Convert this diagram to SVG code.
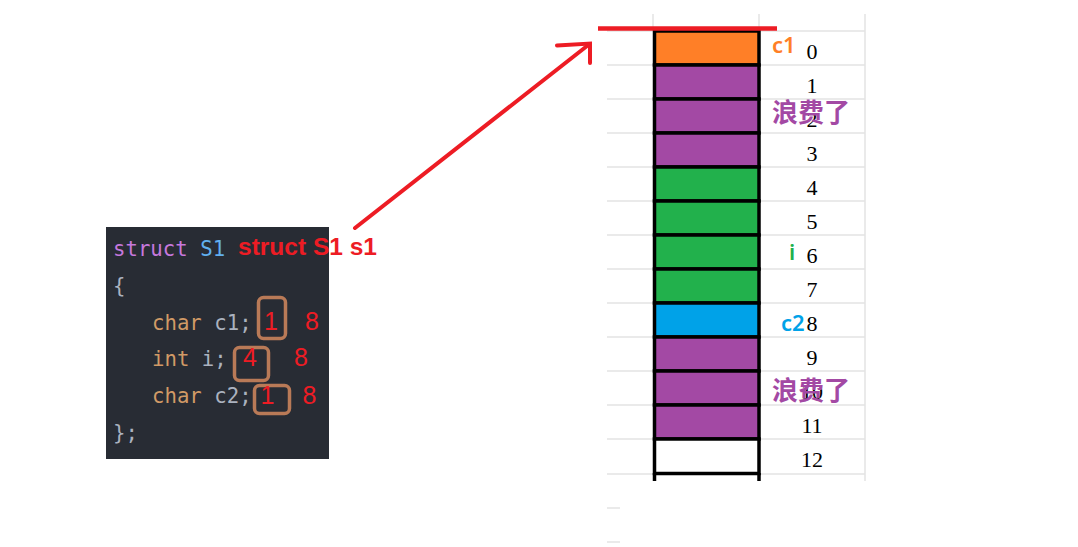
<svg xmlns="http://www.w3.org/2000/svg" width="1078" height="547" viewBox="0 0 1078 547">
<style>
.grid{stroke:#e3e3e3;stroke-width:1.5;fill:none}
.cell{stroke:#000;stroke-width:3.5}
.num{font-family:"Liberation Serif","Times New Roman",serif;font-size:22px;fill:#000;text-anchor:middle}
.code{font-family:"DejaVu Sans Mono","Liberation Mono",monospace;font-size:20.7px}
.kw{fill:#c678dd}.ty{fill:#61afef}.tp{fill:#d19a66}.id{fill:#abb2bf}
.red{font-family:"Liberation Sans",Arial,sans-serif;font-size:25px;fill:#ed1c24;text-anchor:middle}
.box{fill:none;stroke:#b97a57;stroke-width:3.5}
.waste{font-family:"Noto Sans CJK SC","Noto Sans",sans-serif;font-size:26px;font-weight:bold;fill:#a349a4}
.lbl{font-family:"Noto Sans","Liberation Sans",sans-serif;font-size:22px;font-weight:600}
</style>
<rect width="1078" height="547" fill="#fff"/>
<g id="grid">
<line class="grid" x1="653" y1="14" x2="653" y2="31"/>
<line class="grid" x1="759" y1="14" x2="759" y2="31"/>
<line class="grid" x1="865" y1="14" x2="865" y2="481"/>
<line class="grid" x1="607" y1="31" x2="865" y2="31"/>
<line class="grid" x1="607" y1="65" x2="865" y2="65"/>
<line class="grid" x1="607" y1="99" x2="865" y2="99"/>
<line class="grid" x1="607" y1="133" x2="865" y2="133"/>
<line class="grid" x1="607" y1="167" x2="865" y2="167"/>
<line class="grid" x1="607" y1="201" x2="865" y2="201"/>
<line class="grid" x1="607" y1="235" x2="865" y2="235"/>
<line class="grid" x1="607" y1="269" x2="865" y2="269"/>
<line class="grid" x1="607" y1="303" x2="865" y2="303"/>
<line class="grid" x1="607" y1="337" x2="865" y2="337"/>
<line class="grid" x1="607" y1="371" x2="865" y2="371"/>
<line class="grid" x1="607" y1="405" x2="865" y2="405"/>
<line class="grid" x1="607" y1="439" x2="865" y2="439"/>
<line class="grid" x1="607" y1="474" x2="865" y2="474"/>
<line class="grid" x1="607" y1="508" x2="620" y2="508"/>
<line class="grid" x1="607" y1="542" x2="620" y2="542"/>
</g>
<g id="memory">
<rect class="cell" x="654.5" y="31" width="104.5" height="34" fill="#ff7f27"/>
<rect class="cell" x="654.5" y="65" width="104.5" height="34" fill="#a349a4"/>
<rect class="cell" x="654.5" y="99" width="104.5" height="34" fill="#a349a4"/>
<rect class="cell" x="654.5" y="133" width="104.5" height="34" fill="#a349a4"/>
<rect class="cell" x="654.5" y="167" width="104.5" height="34" fill="#22b14c"/>
<rect class="cell" x="654.5" y="201" width="104.5" height="34" fill="#22b14c"/>
<rect class="cell" x="654.5" y="235" width="104.5" height="34" fill="#22b14c"/>
<rect class="cell" x="654.5" y="269" width="104.5" height="34" fill="#22b14c"/>
<rect class="cell" x="654.5" y="303" width="104.5" height="34" fill="#00a2e8"/>
<rect class="cell" x="654.5" y="337" width="104.5" height="34" fill="#a349a4"/>
<rect class="cell" x="654.5" y="371" width="104.5" height="34" fill="#a349a4"/>
<rect class="cell" x="654.5" y="405" width="104.5" height="34" fill="#a349a4"/>
<rect class="cell" x="654.5" y="439" width="104.5" height="34.5" fill="#fff"/>
<line class="cell" x1="654.5" y1="473" x2="654.5" y2="481"/>
<line class="cell" x1="759" y1="473" x2="759" y2="481"/>
</g>
<g id="offsets">
<text class="num" x="812" y="59">0</text>
<text class="num" x="812" y="93">1</text>
<text class="num" x="812" y="127">2</text>
<text class="num" x="812" y="161">3</text>
<text class="num" x="812" y="195">4</text>
<text class="num" x="812" y="229">5</text>
<text class="num" x="812" y="263">6</text>
<text class="num" x="812" y="297">7</text>
<text class="num" x="812" y="331">8</text>
<text class="num" x="812" y="365">9</text>
<text class="num" x="812" y="399">10</text>
<text class="num" x="812" y="433">11</text>
<text class="num" x="812" y="467">12</text>
</g>
<g id="labels">
<text class="lbl" x="772" y="53" fill="#ff7f27">c1</text>
<text class="waste" x="772" y="122">浪费了</text>
<text class="lbl" x="789" y="260" fill="#22b14c">i</text>
<text class="lbl" x="781" y="331" fill="#00a2e8" font-weight="bold">c2</text>
<text class="waste" x="772" y="400">浪费了</text>
</g>
<g id="code-block">
<rect x="106" y="227" width="223" height="232" fill="#282c34"/>
<text class="code" x="113" y="256"><tspan class="kw">struct</tspan> <tspan class="ty">S1</tspan></text>
<text class="code id" x="113" y="293">{</text>
<text class="code" x="152" y="330"><tspan class="tp">char</tspan> <tspan class="id">c1;</tspan></text>
<text class="code" x="152" y="366"><tspan class="tp">int</tspan> <tspan class="id">i;</tspan></text>
<text class="code" x="152" y="403"><tspan class="tp">char</tspan> <tspan class="id">c2;</tspan></text>
<text class="code id" x="113" y="440">};</text>
</g>
<g id="annotations">
<text x="238" y="255" font-family="Liberation Sans, Arial, sans-serif" font-size="24.5" font-weight="bold" fill="#ed1c24">struct S1 s1</text>
<rect class="box" x="258.5" y="297.5" width="27" height="41" rx="5"/>
<rect class="box" x="234.5" y="347.5" width="34" height="33" rx="5"/>
<rect class="box" x="254.5" y="385.5" width="35" height="28" rx="5"/>
<text class="red" x="271" y="330">1</text>
<text class="red" x="312" y="330">8</text>
<text class="red" x="250" y="366">4</text>
<text class="red" x="301" y="366">8</text>
<text class="red" x="267.5" y="404">1</text>
<text class="red" x="309.5" y="404">8</text>
</g>
<g id="connectors" stroke="#ed1c24" stroke-width="4" fill="none" stroke-linecap="round">
<line x1="598" y1="28.5" x2="777" y2="28.5" stroke-width="4.5" stroke-linecap="butt"/>
<line x1="355" y1="228" x2="587" y2="46"/>
<polyline points="557,45.5 590,43.5 590,63" stroke-linejoin="miter"/>
</g>
</svg>
